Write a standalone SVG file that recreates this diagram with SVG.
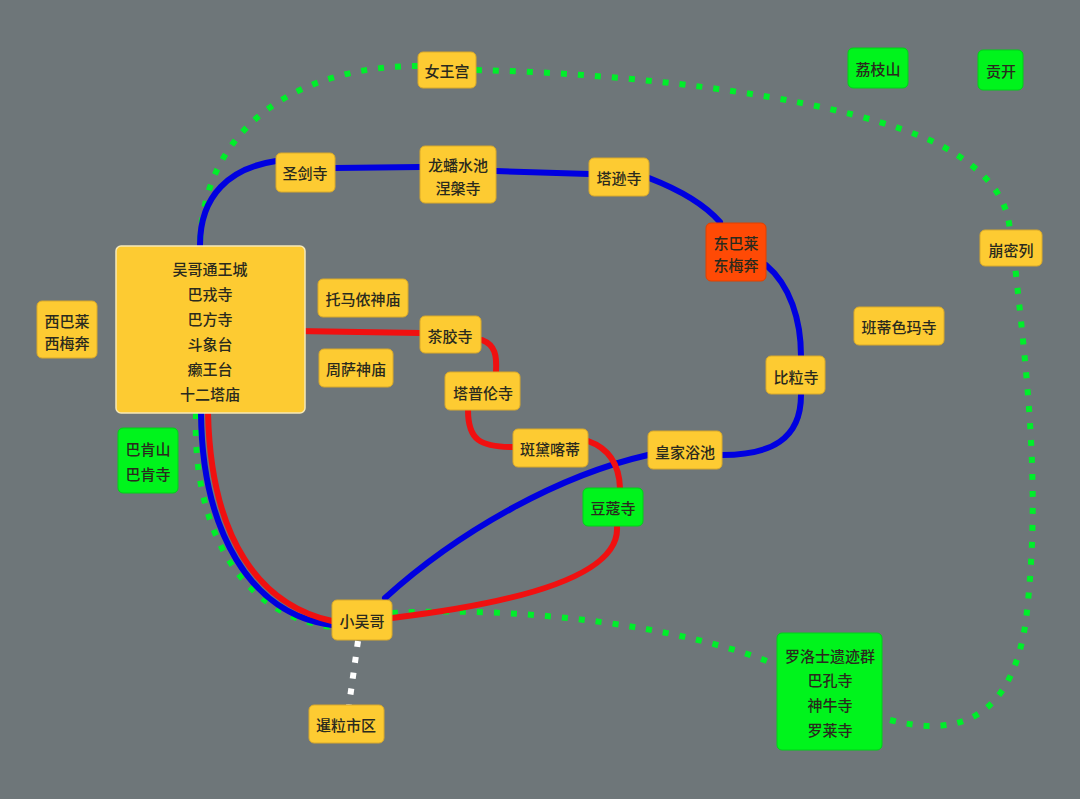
<svg xmlns="http://www.w3.org/2000/svg" width="1080" height="799" viewBox="0 0 1080 799">
<style>
.y{fill:#fdcb32;stroke:#d9a92a;stroke-width:1}
.g{fill:#00f41c;stroke:#00d018;stroke-width:1}
.o{fill:#ff4a05;stroke:#e04000;stroke-width:1}
text{font-family:"Noto Sans CJK SC","Noto Sans",sans-serif;font-size:15px;font-weight:500;fill:#2a2a1e;text-anchor:middle;dominant-baseline:central}
.b{fill:none;stroke:#0000e0;stroke-width:6;stroke-linecap:round}
.r{fill:none;stroke:#f01010;stroke-width:6;stroke-linecap:round}
.d{fill:none;stroke:#00ee2a;stroke-width:6;stroke-dasharray:6 11}
.w{fill:none;stroke:#ffffff;stroke-width:6;stroke-dasharray:6 10}
</style>
<rect width="1080" height="799" fill="#6e7679"/>
<g id="connectors">
<path class="d" d="M418,66 C300,66 203,125 200,245"/>
<path class="d" d="M196,413 C192,520 235,615 332,627"/>
<path class="d" d="M392,613 C520,606 680,625 777,665"/>
<path class="d" d="M890,720 C960,738 1012,718 1026,620 C1040,500 1030,400 1015,266"/>
<path class="d" d="M476,70 C650,74 850,100 940,145 C990,172 1008,200 1010,232"/>
<path class="w" d="M358,641 L349,705"/>
<path class="b" d="M200,245 C200,195 230,168 276,161"/>
<path class="b" d="M335,168 L420,167"/>
<path class="b" d="M496,171 L589,174"/>
<path class="b" d="M649,178 C680,190 705,205 720,222"/>
<path class="b" d="M766,265 C790,285 801,320 801,356"/>
<path class="b" d="M801,395 C801,440 770,455 722,455"/>
<path class="b" d="M648,455 C560,475 460,530 385,598"/>
<path class="b" d="M332,625 C250,615 202,530 201,413"/>
<path class="r" d="M297,331 L420,333"/>
<path class="r" d="M482,340 C495,345 497,355 496,372"/>
<path class="r" d="M468,410 C468,440 480,447 513,447"/>
<path class="r" d="M588,441 C605,447 619,460 620,488"/>
<path class="r" d="M617,527 C620,580 500,605 392,618"/>
<path class="r" d="M332,621 C260,605 211,540 208,413"/>
</g>
<g id="n-nuwanggong"><rect class="y" x="418" y="52" width="58" height="36" rx="5"/><text x="447" y="70">女王宫</text></g>
<g id="n-lizhishan"><rect class="g" x="848" y="48" width="60" height="40" rx="5"/><text x="878" y="68">荔枝山</text></g>
<g id="n-gongkai"><rect class="g" x="978" y="50" width="45" height="40" rx="5"/><text x="1001" y="70">贡开</text></g>
<g id="n-shengjiansi"><rect class="y" x="276" y="153" width="59" height="39" rx="5"/><text x="305" y="172">圣剑寺</text></g>
<g id="n-longpan"><rect class="y" x="420" y="146" width="76" height="57" rx="5"/><text x="458" y="164">龙蟠水池</text><text x="458" y="187">涅槃寺</text></g>
<g id="n-taxunsi"><rect class="y" x="589" y="158" width="60" height="38" rx="5"/><text x="619" y="177">塔逊寺</text></g>
<g id="n-dongbalai"><rect class="o" x="706" y="223" width="60" height="58" rx="5"/><text x="736" y="242">东巴莱</text><text x="736" y="264">东梅奔</text></g>
<g id="n-bengmilie"><rect class="y" x="980" y="230" width="62" height="36" rx="5"/><text x="1011" y="249">崩密列</text></g>
<g id="n-wugetong"><rect x="116" y="246" width="189" height="167" rx="5" fill="#fdcb32" stroke="#f6e9b8" stroke-width="1.5"/>
<text x="210" y="268">吴哥通王城</text><text x="210" y="293">巴戎寺</text><text x="210" y="318">巴方寺</text><text x="210" y="343">斗象台</text><text x="210" y="368">癞王台</text><text x="210" y="393">十二塔庙</text></g>
<g id="n-tuomanong"><rect class="y" x="318" y="279" width="90" height="38" rx="5"/><text x="363" y="298">托马侬神庙</text></g>
<g id="n-xibalai"><rect class="y" x="37" y="301" width="60" height="57" rx="5"/><text x="67" y="320">西巴莱</text><text x="67" y="342">西梅奔</text></g>
<g id="n-chajiaosi"><rect class="y" x="420" y="316" width="61" height="37" rx="5"/><text x="450" y="335">茶胶寺</text></g>
<g id="n-bandisema"><rect class="y" x="854" y="307" width="90" height="38" rx="5"/><text x="899" y="326">班蒂色玛寺</text></g>
<g id="n-zhousa"><rect class="y" x="319" y="349" width="74" height="38" rx="5"/><text x="356" y="368">周萨神庙</text></g>
<g id="n-bilisi"><rect class="y" x="766" y="356" width="59" height="38" rx="5"/><text x="796" y="376">比粒寺</text></g>
<g id="n-tapulun"><rect class="y" x="445" y="372" width="75" height="38" rx="5"/><text x="483" y="392">塔普伦寺</text></g>
<g id="n-bakenshan"><rect class="g" x="118" y="428" width="60" height="65" rx="5"/><text x="148" y="448">巴肯山</text><text x="148" y="473">巴肯寺</text></g>
<g id="n-bandaikadi"><rect class="y" x="513" y="429" width="75" height="38" rx="5"/><text x="550" y="448">斑黛喀蒂</text></g>
<g id="n-huangjiayuchi"><rect class="y" x="648" y="431" width="74" height="38" rx="5"/><text x="685" y="451">皇家浴池</text></g>
<g id="n-doukousi"><rect class="g" x="583" y="488" width="60" height="38" rx="5"/><text x="613" y="507">豆蔻寺</text></g>
<g id="n-xiaowuge"><rect class="y" x="332" y="600" width="60" height="40" rx="5"/><text x="362" y="620">小吴哥</text></g>
<g id="n-luoluoshi"><rect class="g" x="777" y="633" width="105" height="117" rx="5"/><text x="830" y="655">罗洛士遗迹群</text><text x="830" y="679">巴孔寺</text><text x="830" y="704">神牛寺</text><text x="830" y="729">罗莱寺</text></g>
<g id="n-xianli"><rect class="y" x="309" y="705" width="75" height="38" rx="5"/><text x="346" y="724">暹粒市区</text></g>
</svg>
